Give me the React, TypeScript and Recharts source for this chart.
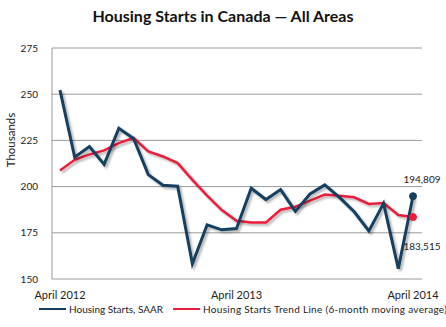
import React from 'react';
import { LineChart, Line, XAxis, YAxis, CartesianGrid, LabelList } from 'recharts';

const months = [
  'April 2012', 'May 2012', 'June 2012', 'July 2012', 'August 2012', 'September 2012',
  'October 2012', 'November 2012', 'December 2012', 'January 2013', 'February 2013', 'March 2013',
  'April 2013', 'May 2013', 'June 2013', 'July 2013', 'August 2013', 'September 2013',
  'October 2013', 'November 2013', 'December 2013', 'January 2014', 'February 2014', 'March 2014',
  'April 2014',
];

const starts = [
  252.2, 215.9, 221.7, 212.0, 231.5, 226.0, 206.5, 200.7, 200.2, 158.3, 179.3, 176.6,
  177.3, 199.1, 193.0, 198.4, 186.6, 196.0, 200.9, 194.2, 186.4, 176.0, 190.9, 155.6,
  194.809,
];

const trend = [
  208.7, 214.5, 217.4, 219.6, 223.5, 226.4, 219.0, 216.3, 212.7, 203.6, 195.1, 187.3,
  181.5, 180.6, 180.6, 187.5, 189.1, 192.4, 195.7, 195.1, 194.2, 190.6, 191.1, 184.6,
  183.515,
];

const yTicks = [150, 175, 200, 225, 250, 275];

const data = months.map((m, i) => ({ month: m, starts: starts[i], trend: trend[i] }));

const NAVY = '#153f5e';
const RED = '#ec1c3b';
const FONT = 'Lato, "Open Sans", sans-serif';

const lastIdx = months.length - 1;

const endDot = (color: string) => (props: any) => {
  const { cx, cy, index } = props;
  if (index !== lastIdx) return <g key={`d${index}`} />;
  return <circle key={`d${index}`} cx={cx} cy={cy} r={3.5} fill={color} stroke={color} />;
};

const endLabel = (dy: number) => (props: any) => {
  const { x, y, index, value } = props;
  if (index !== lastIdx) return null;
  return (
    <text x={x + 9} y={y + dy} textAnchor="middle" fontSize={10} fill="#222" fontFamily={FONT}>
      {Math.round(value * 1000).toLocaleString('en-US')}
    </text>
  );
};

const yTitle = () => (
  <text x={15} y={140} transform="rotate(-90, 15, 140)" textAnchor="middle" fontSize={11.5} fill="#222" fontFamily={FONT}>
    Thousands
  </text>
);

export default function App() {
  return (
    <div style={{ position: 'absolute', left: 0, top: 0, width: 446, height: 327, background: '#fff', fontFamily: FONT }}>
      <div style={{ position: 'absolute', top: 6, left: 0, width: 446, textAlign: 'center', fontSize: 16, fontWeight: 700, color: '#111' }}>
        Housing Starts in Canada — All Areas
      </div>
      <LineChart width={446} height={327} data={data} margin={{ top: 48, right: 24, left: 0, bottom: 28 }}>
        <defs>
          <filter id="shadow" x="-10%" y="-10%" width="130%" height="130%">
            <feDropShadow dx="2" dy="2" stdDeviation="1.2" floodColor="#000" floodOpacity="0.3" />
          </filter>
        </defs>
        <CartesianGrid vertical={false} stroke="#9a9a9a" />
        <XAxis
          dataKey="month"
          interval={11}
          axisLine={false}
          tickLine={false}
          tickSize={0}
          tickMargin={12}
          height={20}
          padding={{ left: 8, right: 9 }}
          tick={{ fontSize: 11, fill: '#222', fontFamily: FONT }}
        />
        <YAxis
          domain={[150, 275]}
          ticks={yTicks}
          width={52}
          axisLine={{ stroke: '#9a9a9a' }}
          tickLine={false}
          tickMargin={8}
          tick={{ fontSize: 10, fill: '#222', fontFamily: FONT }}
          label={yTitle}
        />
        <Line
          dataKey="trend"
          stroke={RED}
          strokeWidth={2.5}
          dot={endDot(RED)}
          activeDot={false}
          isAnimationActive={false}
          filter="url(#shadow)"
        >
          <LabelList dataKey="trend" content={endLabel(33)} />
        </Line>
        <Line
          dataKey="starts"
          stroke={NAVY}
          strokeWidth={3}
          dot={endDot(NAVY)}
          activeDot={false}
          isAnimationActive={false}
          filter="url(#shadow)"
        >
          <LabelList dataKey="starts" content={endLabel(-13)} />
        </Line>
      </LineChart>
      <div style={{ position: 'absolute', top: 303, left: 39, display: 'flex', alignItems: 'center', fontSize: 10, color: '#222', whiteSpace: 'nowrap' }}>
        <span style={{ display: 'inline-block', width: 27, height: 2.5, background: NAVY, marginRight: 3 }} />
        <span>Housing Starts, SAAR</span>
        <span style={{ display: 'inline-block', width: 27, height: 2.5, background: RED, marginLeft: 10, marginRight: 3 }} />
        <span style={{ letterSpacing: 0.3 }}>Housing Starts Trend Line (6-month moving average)</span>
      </div>
    </div>
  );
}
